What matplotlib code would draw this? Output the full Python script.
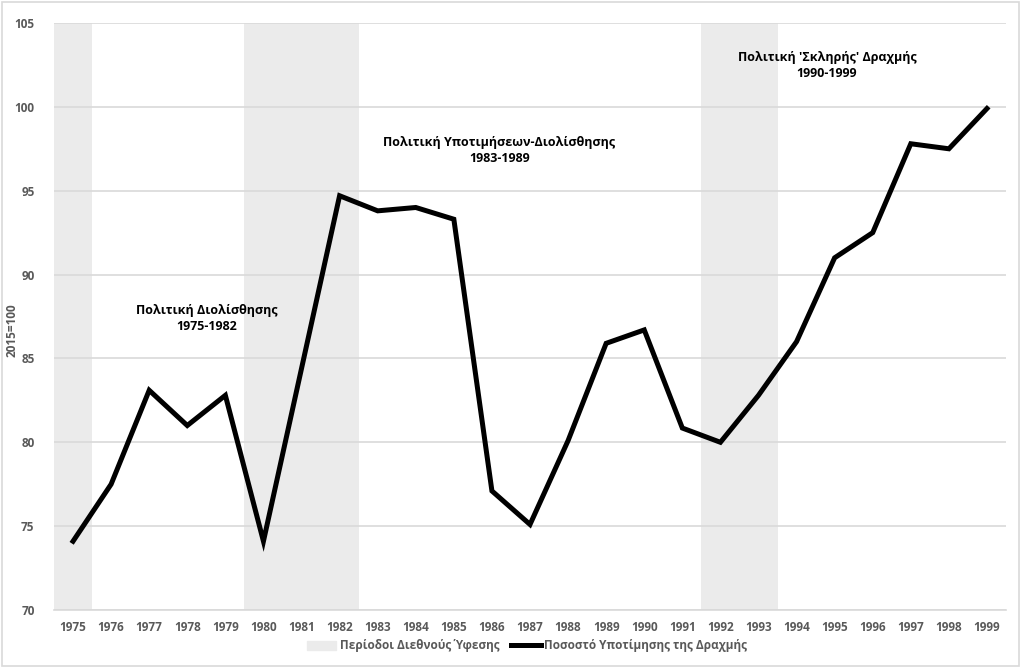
import matplotlib
matplotlib.use("Agg")
import matplotlib.pyplot as plt
from matplotlib.patches import Rectangle
from matplotlib.lines import Line2D

years = list(range(1975, 2000))
values = [74.1, 77.5, 83.1, 81.0, 82.8, 74.1, 84.4, 94.7, 93.8, 94.0, 93.3,
          77.1, 75.1, 80.1, 85.9, 86.7, 80.85, 80.0, 82.8, 86.0, 91.0, 92.5,
          97.8, 97.5, 99.9]
recession_years = [1975, 1980, 1981, 1982, 1992, 1993]
recession_level = 105

annotations = [
    ("Πολιτική Διολίσθησης\n1975-1982", 1978.5, 87.4),
    ("Πολιτική Υποτιμήσεων-Διολίσθησης\n1983-1989", 1986.2, 97.4),
    ("Πολιτική 'Σκληρής' Δραχμής\n1990-1999", 1994.8, 102.45),
]

plt.rcParams['font.family'] = ['Open Sans', 'DejaVu Sans']

fig = plt.figure(figsize=(10.22, 6.68), dpi=100)
ax = fig.add_axes([54/1022, 58/668, 952/1022, 587/668])

x = list(range(len(years)))
rec_x = [years.index(y) for y in recession_years]
ax.bar(rec_x, [recession_level - 70] * len(rec_x), bottom=70, width=1.0,
       color='#EBEBEB', zorder=1)

ax.plot(x, values, color='black', lw=3.6, zorder=3, solid_joinstyle='miter')

ax.set_xlim(-0.5, len(years) - 0.5)
ax.set_ylim(70, 105)
ax.set_yticks(range(70, 106, 5))
ax.set_xticks(x)
ax.set_xticklabels([str(y) for y in years])
ax.yaxis.grid(True, color='#D9D9D9', lw=1.2, zorder=2)
ax.set_axisbelow(False)
for s in ['top', 'right', 'left']:
    ax.spines[s].set_visible(False)
ax.spines['bottom'].set_color('#D9D9D9')
ax.spines['bottom'].set_linewidth(1.2)
ax.tick_params(axis='both', length=0, labelsize=8.5, colors='#595959', pad=8)
for lab in ax.get_xticklabels() + ax.get_yticklabels():
    lab.set_fontweight('bold')
ax.tick_params(axis='y', pad=14)

fig.text(12/1022, 1 - 330/668, '2015=100', rotation=90, ha='center', va='center',
         fontsize=8.5, color='#595959', fontweight='bold')

for txt, xv, yv in annotations:
    ax.text(xv - years[0], yv, txt, ha='center', va='center',
            fontsize=9, fontweight='bold', color='black', linespacing=1.3, zorder=4)

handles = [Rectangle((0, 0), 1, 1, color='#EBEBEB'),
           Line2D([0], [0], color='black', lw=3.6)]
fig.legend(handles, ['Περίοδοι Διεθνούς Ύφεσης', 'Ποσοστό Υποτίμησης της Δραχμής'],
           loc='center', bbox_to_anchor=(527/1022, 22/668), ncol=2, frameon=False,
           prop={'size': 8.5, 'weight': 'bold'}, labelcolor='#595959',
           handlelength=2.5, handletextpad=0.3, columnspacing=1.0)

fig.patches.append(Rectangle((0.002, 0.003), 0.995, 0.994, transform=fig.transFigure,
                             fill=False, edgecolor='#D9D9D9', lw=1.2))

fig.savefig('out.png', dpi=100)
